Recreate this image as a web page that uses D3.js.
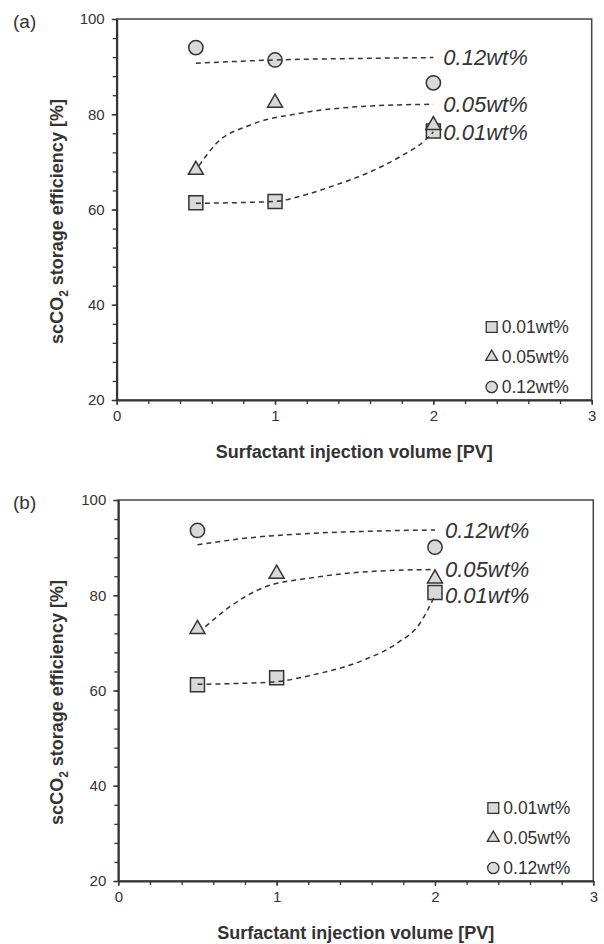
<!DOCTYPE html>
<html>
<head>
<meta charset="utf-8">
<script src="https://cdn.jsdelivr.net/npm/d3@7"></script>
<style>
  body { margin: 0; background: #fff; }
  text { font-family: "Liberation Sans", Arial, sans-serif; fill: #333; }
</style>
</head>
<body>
<div id="plot"></div>
<script>
// measured points, x = injection volume [PV]
const xVals = [0.5, 1, 2];
const seriesNames = ["0.01wt%", "0.05wt%", "0.12wt%"];

// panel (a)
const aLow  = [61.4, 61.7, 76.5];
const aMid  = [68.3, 82.4, 77.7];
const aHigh = [94.0, 91.4, 86.6];
// dashed trend lines
const aLowFit  = [[0.5,61.3],[1.0,61.7],[1.16,62.8],[1.37,65.0],[1.58,67.6],[1.79,71.1],[1.95,74.6],[2.0,76.3]];
const aMidFit  = [[0.52,69.2],[0.63,73.9],[0.84,77.7],[1.16,80.2],[1.58,81.7],[2.0,82.1]];
const aHighFit = [[0.5,90.7],[1.0,91.4],[1.5,91.7],[2.0,91.9]];

// panel (b)
const bLow  = [61.2, 62.7, 80.6];
const bMid  = [72.9, 84.5, 83.5];
const bHigh = [93.6, null, 90.1];
const bLowFit  = [[0.5,61.3],[0.98,61.8],[1.23,63.3],[1.55,66.4],[1.76,69.9],[1.905,74.1],[2.0,80.0]];
const bMidFit  = [[0.55,73.4],[0.705,77.6],[0.916,81.6],[1.23,83.7],[1.65,85.1],[2.0,85.4]];
const bHighFit = [[0.5,90.6],[0.81,92.0],[1.23,93.0],[1.65,93.5],[2.0,93.7]];

const xTicks = [0, 1, 2, 3];
const yTicks = [20, 40, 60, 80, 100];

const panels = [
  {tag: "(a)", left: 116.7, right: 591.7, top: 19, bottom: 400,
   series: [aLow, aMid, aHigh], fits: [aLowFit, aMidFit, aHighFit]},
  {tag: "(b)", left: 118.3, right: 593.3, top: 500, bottom: 881,
   series: [bLow, bMid, bHigh], fits: [bLowFit, bMidFit, bHighFit]}
];

const shapes = [d3.symbolSquare, d3.symbolTriangle, d3.symbolCircle];
const markSize = [196, 97, 160];
const legendSize = [118, 62, 100];
const fillGrey = "#d9d9d9", ink = "#333";

const svg = d3.select("#plot").append("svg")
    .attr("width", 604)
    .attr("height", 944);

panels.forEach(p => {
  const x = d3.scaleLinear().domain([0, 3]).range([p.left, p.right]);
  const y = d3.scaleLinear().domain([20, 100]).range([p.bottom, p.top]);
  const g = svg.append("g");

  // frame
  g.append("rect")
    .attr("x", p.left).attr("y", p.top)
    .attr("width", p.right - p.left).attr("height", p.bottom - p.top)
    .attr("fill", "none").attr("stroke", "#444").attr("stroke-width", 1.5);

  // minor ticks
  g.append("g").attr("transform", `translate(0,${p.bottom})`)
    .call(d3.axisBottom(x).tickValues(d3.range(0, 3.01, 0.2)).tickSize(4).tickFormat(""))
    .call(a => a.select(".domain").remove());
  g.append("g").attr("transform", `translate(${p.left},0)`)
    .call(d3.axisLeft(y).tickValues(d3.range(20, 100.1, 4)).tickSize(4).tickFormat(""))
    .call(a => a.select(".domain").remove());

  // main axes
  const xa = g.append("g").attr("transform", `translate(0,${p.bottom})`)
    .call(d3.axisBottom(x).tickValues(xTicks).tickFormat(d3.format("d"))
      .tickSize(5).tickPadding(5).tickSizeOuter(0));
  const ya = g.append("g").attr("transform", `translate(${p.left},0)`)
    .call(d3.axisLeft(y).tickValues(yTicks).tickFormat(d3.format("d"))
      .tickSize(5).tickPadding(7).tickSizeOuter(0));
  [xa, ya].forEach(a => {
    a.select(".domain").attr("stroke", ink).attr("stroke-width", 2);
    a.selectAll(".tick text").style("font-size", "15px").attr("fill", ink)
      .style("font-family", '"Liberation Sans", Arial, sans-serif');
  });
  g.selectAll(".tick line").attr("stroke", ink).attr("stroke-width", 1.3);

  // markers
  p.series.forEach((vals, si) => {
    g.append("g").selectAll("path")
      .data(xVals.map((xv, i) => [xv, vals[i]]).filter(d => d[1] != null))
      .join("path")
        .attr("transform", d => `translate(${x(d[0])},${y(d[1])})`)
        .attr("d", d3.symbol().type(shapes[si]).size(markSize[si]))
        .attr("fill", fillGrey).attr("stroke", ink).attr("stroke-width", 1.5);
  });

  // dashed trend lines drawn on top
  const line = d3.line().x(d => x(d[0])).y(d => y(d[1])).curve(d3.curveMonotoneX);
  p.fits.forEach((pts, si) => {
    g.append("path").datum(pts)
      .attr("d", line)
      .attr("fill", "none").attr("stroke", ink)
      .attr("stroke-width", 1.5).attr("stroke-dasharray", "5,4");
    const end = pts[pts.length - 1];
    g.append("text")
      .attr("x", x(end[0]) + 10).attr("y", y(end[1]))
      .attr("dy", "0.35em")
      .style("font-size", "22px").style("font-style", "italic")
      .text(seriesNames[si]);
  });

  // legend
  seriesNames.forEach((name, si) => {
    const ly = p.bottom - 73 + si * 30;
    g.append("path")
      .attr("transform", `translate(${p.right - 100},${ly})`)
      .attr("d", d3.symbol().type(shapes[si]).size(legendSize[si]))
      .attr("fill", fillGrey).attr("stroke", ink).attr("stroke-width", 1.3);
    g.append("text")
      .attr("x", p.right - 90).attr("y", ly).attr("dy", "0.35em")
      .style("font-size", "17.5px")
      .text(name);
  });

  // axis titles
  g.append("text")
    .attr("x", (p.left + p.right) / 2).attr("y", p.bottom + 57.5)
    .attr("text-anchor", "middle")
    .style("font-size", "18px").style("font-weight", "bold")
    .text("Surfactant injection volume [PV]");

  const yt = g.append("text")
    .attr("transform", `translate(63,${(p.top + p.bottom) / 2 + 12}) rotate(-90)`)
    .attr("text-anchor", "middle")
    .style("font-size", "18px").style("font-weight", "bold");
  yt.append("tspan").text("scCO");
  yt.append("tspan").attr("dy", 5).style("font-size", "12px").text("2");
  yt.append("tspan").attr("dy", -5).text(" storage efficiency [%]");

  // panel tag
  svg.append("text")
    .attr("x", 13).attr("y", p.top + 9)
    .style("font-size", "19px")
    .text(p.tag);
});
</script>
</body>
</html>
